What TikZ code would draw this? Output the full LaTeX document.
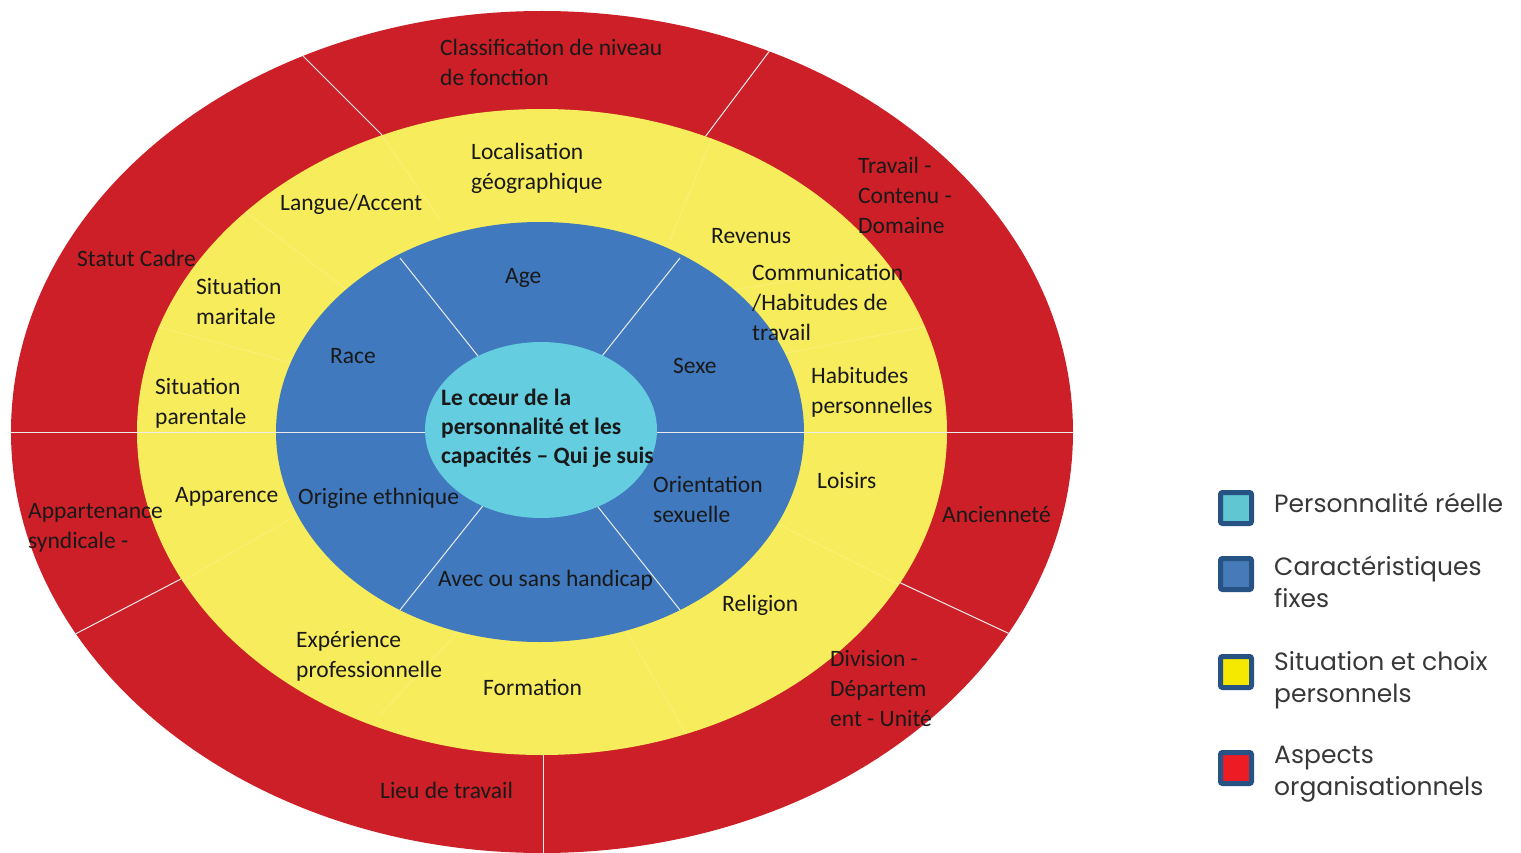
\documentclass[tikz,border=0pt]{standalone}
\usepackage{fontspec}
\setmainfont{Carlito}
\newfontfamily\legfont{Poppins}
\usetikzlibrary{positioning}

\definecolor{ringred}{RGB}{204,31,39}
\definecolor{ringyellow}{RGB}{247,236,92}
\definecolor{ringblue}{RGB}{64,121,189}
\definecolor{ringcore}{RGB}{100,205,224}
\definecolor{legred}{RGB}{237,28,36}
\definecolor{legyellow}{RGB}{245,233,0}
\definecolor{legblue}{RGB}{70,122,184}
\definecolor{legcore}{RGB}{95,198,210}
\definecolor{legedge}{RGB}{38,82,132}
\definecolor{txt}{RGB}{25,25,25}

\tikzset{
  divline/.style={white!85!gray, line width=1pt},
  faintline/.style={ringyellow!86!white, line width=1.3pt},
  lbl/.style={anchor=west, align=left, inner sep=0pt, text=txt, font=\fontsize{23.5}{30}\selectfont},
  corelbl/.style={lbl, font=\fontsize{23.5}{29}\selectfont\bfseries},
  legbox/.style={draw=legedge, line width=5pt, rounded corners=2pt, minimum size=31pt, inner sep=0pt},
  legtxt/.style={anchor=west, align=left, inner sep=0pt, text=black!78, font=\legfont\fontsize{25}{32}\selectfont},
}

\begin{document}
\begin{tikzpicture}[x=1pt, y=-1pt]
    \useasboundingbox (0,0) rectangle (1521,853);

    % outer ring: aspects organisationnels
    \fill[ringred] (542,432) ellipse [x radius=531pt, y radius=421pt];
    \begin{scope}
        \clip (542,432) ellipse [x radius=531pt, y radius=421pt];
        \draw[divline] (300,53) -- (400,153);
        \draw[divline] (780,37) -- (690,157);
        \draw[divline] (60,642) -- (200,569);
        \draw[divline] (890,578) -- (1025,641);
        \draw[divline] (543,740) -- (543,860);
    \end{scope}

    % situation et choix personnels
    \fill[ringyellow] (542,432) ellipse [x radius=405pt, y radius=323pt];
    \begin{scope}
        \clip (542,432) ellipse [x radius=405pt, y radius=323pt];
        \draw[faintline] (370,118) -- (440,220);
        \draw[faintline] (720,118) -- (670,240);
        \draw[faintline] (230,200) -- (360,300);
        \draw[faintline] (140,322) -- (300,365);
        \draw[faintline] (290,519) -- (160,594);
        \draw[faintline] (460,630) -- (380,715);
        \draw[faintline] (620,620) -- (690,740);
        \draw[faintline] (770,520) -- (930,600);
        \draw[faintline] (770,356) -- (950,322);
        \draw[faintline] (720,292) -- (910,262);
    \end{scope}

    % caracteristiques fixes
    \fill[ringblue] (540,432) ellipse [x radius=264pt, y radius=210pt];
    \draw[divline] (400,258) -- (680,610);
    \draw[divline] (680,258) -- (400,610);
    \draw[divline] (11,432) -- (1073,432);

    % personnalite reelle
    \fill[ringcore] (541,430) ellipse [x radius=116pt, y radius=88pt];

    % labels, outer ring
    \node[lbl] (lclass) at (440,62) {Classification de niveau\\de fonction};
    \node[lbl] (ltravail) at (858,195) {Travail -\\Contenu -\\Domaine};
    \node[lbl] (lstatut) at (77,258) {Statut Cadre};
    \node[lbl] (lsyndic) at (28,528) {Appartenance\\syndicale -};
    \node[lbl] (lanc) at (942,514) {Ancienneté};
    \node[lbl] (ldiv) at (830,688) {Division -\\Départem\\ent - Unité};
    \node[lbl] (llieu) at (380,790) {Lieu de travail};

    % labels, yellow ring
    \node[lbl] (ylocal) at (471,168) {Localisation\\géographique};
    \node[lbl] (ylangue) at (280,204) {Langue/Accent};
    \node[lbl] (yrevenus) at (711,236) {Revenus};
    \node[lbl] (ycomm) at (752,302) {Communication\\/Habitudes de\\travail};
    \node[lbl] (ymarit) at (196,301) {Situation\\maritale};
    \node[lbl] (yparent) at (155,403) {Situation\\parentale};
    \node[lbl] (yhabit) at (811,392) {Habitudes\\personnelles};
    \node[lbl] (yloisirs) at (817,480) {Loisirs};
    \node[lbl] (yappar) at (175,497) {Apparence};
    \node[lbl] (yexper) at (296,656) {Expérience\\professionnelle};
    \node[lbl] (yrelig) at (722,605) {Religion};
    \node[lbl] (yform) at (483,687) {Formation};

    % labels, blue ring
    \node[lbl] (bage) at (505,278) {Age};
    \node[lbl] (brace) at (330,356) {Race};
    \node[lbl] (bsexe) at (673,366) {Sexe};
    \node[lbl] (borig) at (298,498) {Origine ethnique};
    \node[lbl] (borient) at (653,499) {Orientation\\sexuelle};
    \node[lbl] (bhandi) at (438,580) {Avec ou sans handicap};

    \node[corelbl] (core) at (441,428) {Le cœur de la\\personnalité et les\\capacités – Qui je suis};

    % legend
    \node[legbox, fill=legcore] (lgcore) at (1236,508) {};
    \node[legbox, fill=legblue, below=30pt of lgcore] (lgblue) {};
    \node[legbox, fill=legyellow, below=62pt of lgblue] (lgyellow) {};
    \node[legbox, fill=legred, below=60pt of lgyellow] (lgred) {};
    \node[legtxt, right=20pt of lgcore, yshift=5pt] (tcore) {Personnalité réelle};
    \node[legtxt, right=20pt of lgblue, yshift=-7.5pt] (tblue) {Caractéristiques\\fixes};
    \node[legtxt, right=20pt of lgyellow, yshift=-8pt] (tyellow) {Situation et choix\\personnels};
    \node[legtxt, right=20pt of lgred, yshift=-6pt] (tred) {Aspects\\organisationnels};
\end{tikzpicture}
\end{document}
